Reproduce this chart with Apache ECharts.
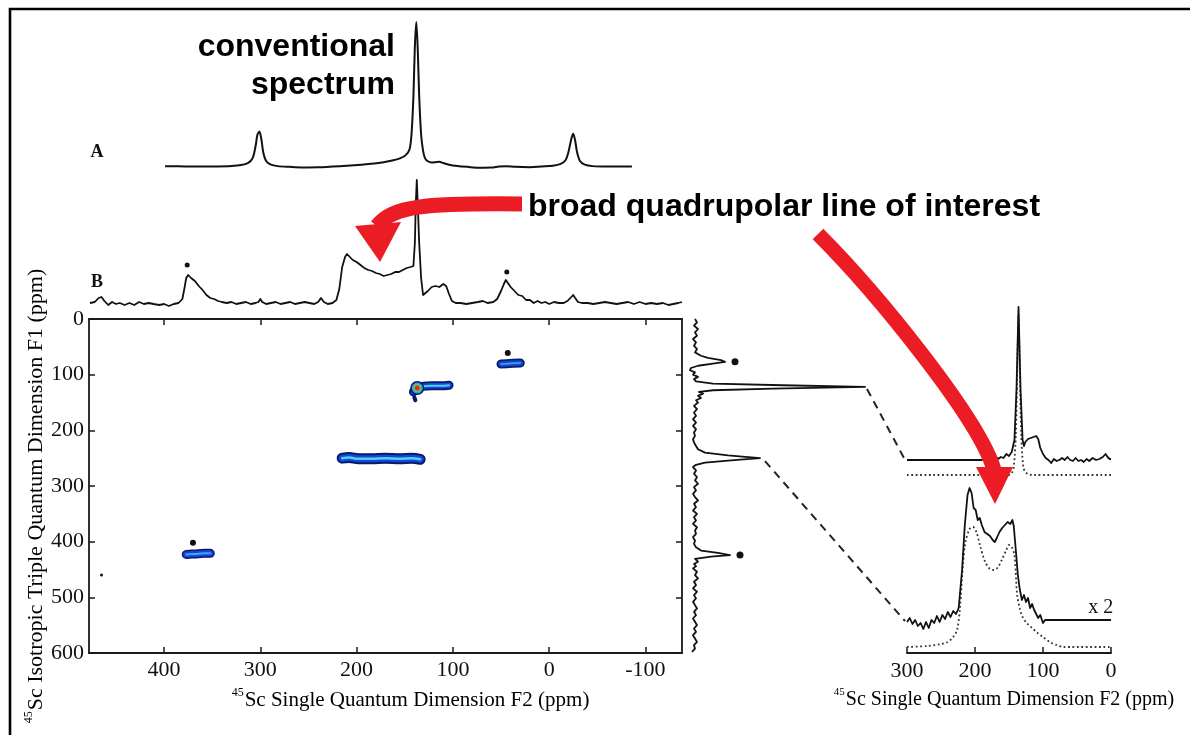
<!DOCTYPE html>
<html><head><meta charset="utf-8">
<script src="https://cdn.jsdelivr.net/npm/echarts@6/dist/echarts.min.js"></script>
<style>html,body{margin:0;padding:0;background:#fff}#c{width:1190px;height:735px}</style>
</head><body><div id="c"></div><script>
// ---------------- data (ppm, intensity) ----------------
const F2_MIN = -138, F2_MAX = 478;
const f2Ticks = [-100, 0, 100, 200, 300, 400];
const sliceTicks = [0, 100, 200, 300];
const axisNameF2 = '{sup|45}{t|Sc Single Quantum Dimension F2 (ppm)}';
const axisNameF1 = '{sup|45}{t|Sc Isotropic Triple Quantum Dimension F1 (ppm)}';

// A: conventional 1D spectrum
const specA = [[399,0.5],[385,0.4],[365,0.2],[345,0.3],[330,0.6],[320,1.2],[313,2.5],[308,6],[305,14],[303,22],[301,24],[299,19],[297,10],[294,4],[289,1.5],[282,0.5],[270,0],[255,-0.4],[240,-0.3],[225,0.2],[210,0.8],[195,1.5],[182,2.3],[172,3.2],[163,4.3],[155,5.8],[149,8],[145,12],[143,22],[141,48],[139.5,82],[138,98.6],[136.5,80],[135,48],[133,22],[131,11],[129,6],[126,3.8],[122,3],[118,3.2],[114,3.4],[110,2.6],[104,1.5],[95,0.6],[85,0],[72,-0.6],[60,-0.5],[52,0.3],[45,0.5],[35,0],[20,-0.2],[8,0.3],[-4,0.8],[-12,2],[-17,4.5],[-20,10],[-23,19],[-25,22.5],[-27,18],[-29,10],[-32,4],[-37,1.5],[-45,0.5],[-60,0.2],[-75,0.2],[-86,0.3]];

// B: projection of the MQMAS spectrum on F2
const specB = [[477,0],[472,1],[468,5],[465,6],[462,2],[458,-2],[454,1],[450,-1],[446,0],[441,-2],[436,0],[431,-2],[426,1],[421,-1],[416,0],[411,-1],[405,-2],[400,-1],[395,-3],[390,-1],[385,0],[381,4],[379,14],[377,25],[375,28],[372,25],[368,22],[364,17],[360,13],[356,8],[352,5],[348,4],[344,2],[340,1],[335,0],[330,1],[325,-1],[320,0],[315,1],[310,-1],[305,0],[302,1],[300,4],[298,1],[294,-1],[289,0],[284,1],[279,-1],[274,0],[269,1],[264,-1],[259,0],[254,1],[249,0],[244,-1],[240,1],[237,5],[234,1],[230,-1],[225,0],[221,3],[218,14],[215,36],[212,46],[210,49],[207,46],[204,43],[200,41],[196,38],[192,35],[188,33],[184,32],[180,30],[176,29],[172,27],[168,28],[164,29],[160,31],[156,31],[152,33],[148,35],[144,36],[141,37],[139.5,60],[138.5,100],[137.5,123],[136.5,100],[135,60],[133,25],[131,8],[129,6],[126,12],[122,16],[118,17],[114,16],[110,19],[107,17],[104,9],[101,2],[97,0],[92,0],[86,-1],[80,0],[74,1],[69,2],[64,0],[58,1],[54,4],[50,12],[47,19],[45,23],[43,21],[40,16],[36,12],[32,8],[28,7],[24,3],[20,3],[16,0],[12,2],[8,0],[4,1],[0,-1],[-5,1],[-10,0],[-15,0],[-19,2],[-22,5],[-25,8],[-27,5],[-30,1],[-34,0],[-40,0],[-46,-1],[-52,0],[-58,1],[-64,0],[-70,-1],[-76,0],[-82,1],[-88,-1],[-94,1],[-100,-1],[-106,0],[-112,-1],[-118,0],[-124,-2],[-129,-1],[-134,0],[-138,1]];
const starsB = [[376,38],[44,31]];

// 2D MQMAS contour ridges: [F2 ppm, F1 ppm]
const ridge250 = [[215,250],[208,249],[198,251],[185,251],[170,250],[155,251],[143,250],[134,252]];
const ridge122 = [[141,131],[138,125],[132,121],[122,120],[112,120],[104,119]];
const ridge122Tail = [[140,141],[139,146]];
const ridge80 = [[50,81],[41,80],[30,79]];
const ridge424 = [[377,423],[368,422],[358,421],[352,421]];
const peakMax = [[137,124]];
const stars2D = [[43,61],[370,402]];
const strayDot = [[465,460]];

// F1 projection: [intensity, F1 ppm]
const projF1 = [[2,0],[4,6],[1,12],[5,18],[2,24],[4,30],[0,36],[3,42],[1,48],[4,54],[2,60],[8,66],[15,70],[28,74],[32,77],[20,80],[5,84],[-2,88],[-3,92],[2,96],[0,100],[5,104],[1,108],[3,112],[20,116],[90,119],[172,122],[80,125],[20,128],[6,131],[10,134],[5,138],[8,142],[3,146],[5,150],[1,156],[4,162],[1,168],[3,174],[0,180],[3,186],[0,192],[3,198],[1,204],[2,210],[0,216],[1,222],[3,228],[5,234],[12,240],[35,245],[67,250],[38,254],[12,258],[3,262],[0,266],[3,272],[1,278],[4,284],[2,290],[5,296],[1,302],[3,308],[0,314],[2,320],[5,326],[1,332],[3,338],[0,344],[4,350],[1,356],[3,362],[0,368],[4,374],[2,380],[3,386],[0,392],[2,398],[1,404],[3,410],[8,416],[25,420],[37,424],[18,427],[2,431],[5,436],[1,440],[3,444],[0,448],[4,454],[2,460],[5,466],[1,472],[3,478],[0,484],[4,490],[1,496],[3,502],[0,508],[2,514],[4,520],[1,526],[3,532],[0,538],[2,544],[4,550],[1,556],[3,562],[0,568],[2,574],[4,580],[1,586],[2,592],[-1,598]];
const starsF1 = [[42,77],[47,424]];

// F2 slices (ppm, intensity) : experiment (solid) and simulation (dotted)
const sliceUpperExp = [[300,0],[190,0],[186,2],[182,-1],[178,3],[174,1],[170,4],[166,1],[162,3],[158,2],[154,6],[150,4],[146,8],[142,20],[139,70],[136,153],[133,70],[130,20],[128,14],[126,18],[122,21],[118,22],[114,23],[110,24],[107,21],[104,12],[100,6],[96,2],[92,0],[88,-3],[84,1],[80,-1],[76,0],[72,2],[68,0],[64,3],[60,0],[56,-1],[52,2],[48,-1],[44,0],[40,-2],[36,1],[32,-1],[27,2],[22,0],[17,1],[12,3],[8,6],[5,3],[2,1],[0,1]];
const sliceUpperSim = [[300,0],[150,0],[146,2],[143,8],[140,40],[138,100],[136,160],[134,100],[132,40],[129,8],[126,3],[122,1],[115,0],[0,0]];
const sliceLowerExp = [[300,-2],[296,2],[292,-4],[288,0],[284,-6],[280,-3],[276,-9],[272,-2],[268,-8],[264,0],[260,-3],[256,4],[252,-2],[248,5],[244,1],[240,8],[236,3],[232,9],[228,6],[224,12],[222,14],[219,50],[215,95],[211,125],[208,132],[205,127],[202,112],[199,110],[196,100],[193,102],[190,95],[186,88],[182,86],[178,84],[174,80],[171,78],[168,82],[164,88],[160,92],[156,95],[152,98],[148,96],[145,100],[143,94],[140,70],[137,45],[134,30],[131,20],[128,25],[125,18],[122,22],[119,12],[116,16],[113,10],[110,6],[107,2],[104,5],[100,-3],[97,0],[96,0],[0,0]];
const sliceLowerSim = [[300,0],[270,1],[250,3],[240,5],[232,10],[226,18],[222,40],[218,80],[214,105],[208,118],[203,120],[198,115],[192,100],[185,85],[178,78],[172,77],[166,80],[160,88],[154,97],[150,102],[146,100],[142,92],[138,52],[134,38],[130,30],[124,24],[116,19],[108,14],[100,10],[90,5],[80,2],[70,0],[0,0]];

// display offsets between stacked traces
const UPPER_SIM_OFFSET = -15;
const LOWER_EXP_OFFSET = 27;

// ---------------- chart ----------------
const chart = echarts.init(document.getElementById('c'), null, {renderer: 'canvas'});
const SERIF = 'Liberation Serif, Times New Roman, serif';
const SANS = 'Liberation Sans, Arial, sans-serif';
const INK = '#000';
function richName(size) {
  return {
    sup: {fontFamily: SERIF, fontSize: Math.round(size * 0.55), color: INK, verticalAlign: 'top', lineHeight: size + 5, padding: [0, 1, 0, 0]},
    t: {fontFamily: SERIF, fontSize: size, color: INK, lineHeight: size + 5}
  };
}
const shift = (arr, d) => arr.map(p => [p[0], p[1] + d]);
const hidden = {show: false};
function hiddenX(gi, min, max, inverse) {
  return {type: 'value', gridIndex: gi, min, max, inverse: !!inverse, show: false, splitLine: hidden};
}
function hiddenY(gi, min, max, inverse) {
  return {type: 'value', gridIndex: gi, min, max, inverse: !!inverse, show: false, splitLine: hidden};
}
const frameLine = {onZero: false, lineStyle: {color: '#1a1a1a', width: 1.8}};
const tickStyle = {color: '#1a1a1a', width: 1.5};
const tickFont = {fontFamily: SERIF, fontSize: 22, color: '#111'};
const traceLine = (name, data, xi, yi, opts) => Object.assign({
  name, type: 'line', data, xAxisIndex: xi, yAxisIndex: yi, showSymbol: false, symbol: 'none',
  clip: false, silent: true, lineStyle: {color: '#111', width: 1.8, join: 'round'}
}, opts || {});
const ridge = (name, data, width, color) => ({
  name, type: 'line', data, xAxisIndex: 2, yAxisIndex: 2, showSymbol: false, symbol: 'none', smooth: 0.4,
  silent: true, z: 3, lineStyle: {color, width, cap: 'round', join: 'round'}
});
const dots = (name, data, xi, yi, size, color) => ({
  name, type: 'scatter', data, xAxisIndex: xi, yAxisIndex: yi, symbolSize: size, silent: true, z: 6,
  itemStyle: {color: color || '#111', opacity: 1}
});

const option = {
  animation: false,
  backgroundColor: '#fff',
  grid: [
    {left: 89, top: 20, width: 593, height: 152, outerBoundsMode: 'none'},
    {left: 89, top: 178, width: 593, height: 130, outerBoundsMode: 'none'},
    {left: 89, top: 319, width: 593, height: 334, outerBoundsMode: 'none'},
    {left: 683, top: 319, width: 200, height: 334, outerBoundsMode: 'none'},
    {left: 907, top: 300, width: 204, height: 180, outerBoundsMode: 'none'},
    {left: 907, top: 480, width: 204, height: 173, outerBoundsMode: 'none'}
  ],
  xAxis: [
    hiddenX(0, F2_MIN, F2_MAX, true),
    hiddenX(1, F2_MIN, F2_MAX, true),
    {type: 'value', gridIndex: 2, position: 'bottom', min: F2_MIN, max: F2_MAX, inverse: true,
     splitLine: hidden, axisLine: frameLine,
     axisTick: {inside: true, length: 6, customValues: f2Ticks, lineStyle: tickStyle},
     axisLabel: Object.assign({customValues: f2Ticks, margin: 6}, tickFont),
     name: axisNameF2, nameLocation: 'middle', nameGap: 34,
     nameTextStyle: {rich: richName(21), padding: [0, 0, 0, 50]}},
    {type: 'value', gridIndex: 2, position: 'top', min: F2_MIN, max: F2_MAX, inverse: true,
     splitLine: hidden, axisLine: frameLine,
     axisTick: {inside: true, length: 6, customValues: f2Ticks, lineStyle: tickStyle},
     axisLabel: {show: false, customValues: f2Ticks}},
    hiddenX(3, -10, 190),
    hiddenX(4, 0, 300, true),
    {type: 'value', gridIndex: 5, position: 'bottom', min: 0, max: 300, inverse: true,
     splitLine: hidden, axisLine: frameLine,
     axisTick: {inside: true, length: 6, customValues: sliceTicks, lineStyle: tickStyle},
     axisLabel: Object.assign({customValues: sliceTicks, margin: 7}, tickFont),
     name: axisNameF2, nameLocation: 'middle', nameGap: 34,
     nameTextStyle: {rich: richName(20), padding: [0, 0, 0, -10]}}
  ],
  yAxis: [
    hiddenY(0, -3.5, 100),
    hiddenY(1, -5, 125),
    {type: 'value', gridIndex: 2, position: 'left', min: 0, max: 600, interval: 100, inverse: true,
     splitLine: hidden, axisLine: frameLine,
     axisTick: {inside: true, length: 6, lineStyle: tickStyle},
     axisLabel: Object.assign({margin: 5}, tickFont),
     name: axisNameF1, nameLocation: 'middle', nameGap: 34, nameRotate: 90,
     nameTextStyle: {rich: richName(22), padding: [0, 0, 0, -20]}},
    {type: 'value', gridIndex: 2, position: 'right', min: 0, max: 600, interval: 100, inverse: true,
     splitLine: hidden, axisLine: frameLine,
     axisTick: {inside: true, length: 6, lineStyle: tickStyle},
     axisLabel: {show: false}},
    hiddenY(3, 0, 600, true),
    hiddenY(4, -20, 160),
    hiddenY(5, -6, 167)
  ],
  series: [
    traceLine('A', specA, 0, 0, {smooth: 0.3, lineStyle: {color: '#111', width: 2, join: 'round'}}),
    traceLine('B', specB, 1, 1),
    dots('B stars', starsB, 1, 1, 5),
    // 2D contours, drawn as layered ridges
    ridge('r250 outer', ridge250, 11, '#0a1a6a'),
    ridge('r250 mid', ridge250, 7, '#1446d8'),
    ridge('r250 inner', ridge250, 2.5, '#4fd0f5'),
    ridge('r122 outer', ridge122, 9, '#0a1a6a'),
    ridge('r122 mid', ridge122, 5.5, '#1446d8'),
    ridge('r122 inner', ridge122, 2, '#4fd0f5'),
    ridge('r122 tail', ridge122Tail, 4, '#0a1a6a'),
    ridge('r80 outer', ridge80, 9, '#0a1a6a'),
    ridge('r80 mid', ridge80, 5.5, '#1446d8'),
    ridge('r80 inner', ridge80, 1.5, '#3fa8f0'),
    ridge('r424 outer', ridge424, 9, '#0a1a6a'),
    ridge('r424 mid', ridge424, 6, '#1446d8'),
    ridge('r424 inner', ridge424, 2, '#3fa8f0'),
    dots('max ring1', peakMax, 2, 2, 14, '#0a1a6a'),
    dots('max ring2', peakMax, 2, 2, 11, '#2aa0e8'),
    dots('max ring3', peakMax, 2, 2, 8, '#6cc85a'),
    dots('max ring4', peakMax, 2, 2, 5, '#d8301c'),
    dots('2D stars', stars2D, 2, 2, 6),
    dots('stray', strayDot, 2, 2, 3),
    // F1 projection
    traceLine('F1 projection', projF1, 4, 4),
    dots('F1 stars', starsF1, 4, 4, 7),
    // slices
    traceLine('upper sim', shift(sliceUpperSim, UPPER_SIM_OFFSET), 5, 5,
      {smooth: 0.3, lineStyle: {color: '#333', width: 1.8, type: [1.8, 2.6]}}),
    traceLine('upper exp', sliceUpperExp, 5, 5),
    traceLine('lower sim', sliceLowerSim, 6, 6,
      {smooth: 0.3, lineStyle: {color: '#333', width: 1.8, type: [1.8, 2.6]}}),
    traceLine('lower exp', shift(sliceLowerExp, LOWER_EXP_OFFSET), 6, 6)
  ]
};
chart.setOption(option);

// connectors from F1 projection peaks to the slices, through the library's coordinate systems
const pUpFrom = chart.convertToPixel({gridIndex: 3}, projF1[26]);
const pUpTo = chart.convertToPixel({gridIndex: 4}, sliceUpperExp[0]);
const pLoFrom = chart.convertToPixel({gridIndex: 3}, projF1[51]);
const pLoTo = chart.convertToPixel({gridIndex: 5}, [sliceLowerExp[0][0], sliceLowerExp[0][1] + LOWER_EXP_OFFSET]);
const x2Pos = chart.convertToPixel({gridIndex: 5}, [12, 2 + LOWER_EXP_OFFSET]);
const RED = '#ec1c24';
const dash = {stroke: '#222', lineWidth: 2, lineDash: [8, 6]};

chart.setOption({
  graphic: [
    {type: 'rect', id: 'frame', shape: {x: 10, y: 9, width: 1200, height: 800}, style: {fill: null, stroke: '#000', lineWidth: 2.6}, z: 100, silent: true},
    {type: 'line', id: 'c1', shape: {x1: pUpFrom[0] + 2, y1: pUpFrom[1] + 2, x2: pUpTo[0] - 3, y2: pUpTo[1] - 2}, style: dash, silent: true},
    {type: 'line', id: 'c2', shape: {x1: pLoFrom[0] + 5, y1: pLoFrom[1] + 3, x2: pLoTo[0] - 2, y2: pLoTo[1] - 1}, style: dash, silent: true},
    {type: 'text', id: 'lA', x: 97, y: 152, style: {text: 'A', font: 'bold 18px ' + SERIF, fill: '#111', textAlign: 'center', textVerticalAlign: 'middle'}},
    {type: 'text', id: 'lB', x: 97, y: 282, style: {text: 'B', font: 'bold 18px ' + SERIF, fill: '#111', textAlign: 'center', textVerticalAlign: 'middle'}},
    {type: 'text', id: 'x2', x: x2Pos[0] - 2, y: x2Pos[1] - 10, style: {text: 'x 2', font: '20px ' + SERIF, fill: '#111', textAlign: 'center', textVerticalAlign: 'middle'}},
    {type: 'text', id: 'conv1', x: 395, y: 47, style: {text: 'conventional', font: 'bold 32px ' + SANS, fill: '#000', textAlign: 'right', textVerticalAlign: 'middle'}},
    {type: 'text', id: 'conv2', x: 395, y: 85, style: {text: 'spectrum', font: 'bold 32px ' + SANS, fill: '#000', textAlign: 'right', textVerticalAlign: 'middle'}},
    {type: 'text', id: 'broad', x: 528, y: 207, style: {text: 'broad quadrupolar line of interest', font: 'bold 32px ' + SANS, fill: '#000', textAlign: 'left', textVerticalAlign: 'middle'}},
    {type: 'bezierCurve', id: 'a1', shape: {x1: 522, y1: 204, cpx1: 425, cpy1: 203, cpx2: 392, cpy2: 206, x2: 377, y2: 226}, style: {stroke: RED, lineWidth: 15, fill: null}, z: 50},
    {type: 'polygon', id: 'a1h', shape: {points: [[355, 226], [401, 222], [380, 262]]}, style: {fill: RED}, z: 50},
    {type: 'bezierCurve', id: 'a2', shape: {x1: 818, y1: 234, cpx1: 878, cpy1: 294, cpx2: 980, cpy2: 420, x2: 994, y2: 470}, style: {stroke: RED, lineWidth: 15, fill: null}, z: 50},
    {type: 'polygon', id: 'a2h', shape: {points: [[976, 467], [1013, 467], [995, 504]]}, style: {fill: RED}, z: 50}
  ]
});
</script></body></html>
